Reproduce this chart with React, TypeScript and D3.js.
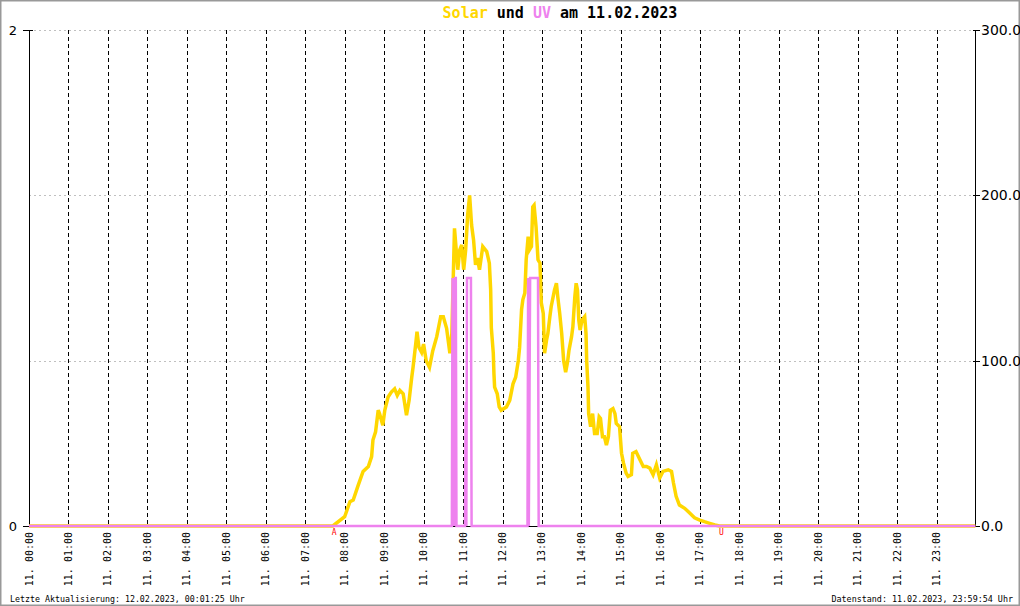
import React from "react";
import * as d3 from "d3";

const hourLabels = ["00:00","01:00","02:00","03:00","04:00","05:00","06:00","07:00","08:00","09:00","10:00","11:00","12:00","13:00","14:00","15:00","16:00","17:00","18:00","19:00","20:00","21:00","22:00","23:00"];
const leftTicks = [0, 2];
const rightTicks = [0, 100, 200, 300];
const gridValues = [100, 200, 300];

const solarTimes = ["00:00","07:42","08:00","08:08","08:13","08:20","08:28","08:36","08:41","08:43","08:47","08:51","08:53","08:58","09:01","09:06","09:11","09:16","09:20","09:24","09:29","09:34","09:38","09:42","09:44","09:48","09:50","09:53","09:57","10:00","10:04","10:09","10:14","10:20","10:26","10:30","10:35","10:40","10:43","10:47","10:50","10:52","10:55","10:58","11:01","11:04","11:07","11:10","11:13","11:16","11:19","11:22","11:25","11:30","11:36","11:40","11:42","11:43","11:46","11:47","11:48","11:52","11:55","11:58","12:06","12:11","12:16","12:20","12:24","12:26","12:29","12:31","12:34","12:36","12:39","12:41","12:44","12:46","12:48","12:51","12:54","12:57","12:59","13:02","13:04","13:07","13:09","13:12","13:14","13:19","13:22","13:24","13:27","13:30","13:33","13:36","13:39","13:41","13:45","13:47","13:50","13:52","13:54","13:56","13:58","14:01","14:05","14:07","14:08","14:10","14:11","14:14","14:17","14:20","14:24","14:27","14:29","14:32","14:35","14:38","14:41","14:44","14:48","14:51","14:53","14:58","15:01","15:04","15:08","15:11","15:16","15:18","15:23","15:29","15:34","15:39","15:44","15:49","15:54","15:59","16:04","16:12","16:17","16:20","16:24","16:29","16:37","16:45","16:52","17:00","17:07","17:15","17:23","17:30","23:59"];
const solarValues = [0,0,5.6,14.7,15.7,24,33,36,42,52,57,70,68,61,70,78,81,83,79,82,80,67,76,90,96,110,117.5,108,105,110,100,96,106,114.5,126.6,126.6,119.6,104.5,116.7,180,165,155,167,170,155,167,188,200,182,173,158,162,155,169,166,159,143,120,104.5,92,84,80,72,70,72,76,86,90,100,108,131,137,141,161,175,167,169,193,194,181,161,159,135,128.6,104.5,112.5,116.5,126.6,132.6,142.7,146.8,138.7,128.6,116.5,100,93,99.4,106,114.5,120.5,138.7,146.8,142.7,124.6,118.5,124.6,126.6,116.5,100,84,68,60,68,56,56,66,65,54,54,49,54,70,71,68,62,60,44,38,32,30,31,44,45,40,36,36,35,31,37,29,33,34,33,26,18,12.7,10.7,7.7,5,3.6,2.6,1.6,0.6,0,0];

const uvTimes = ["00:00","10:43","10:44","10:45","10:46","10:47","10:48","10:49","10:50","11:03","11:04","11:05","11:06","11:12","11:13","12:38","12:39","12:40","12:41","12:42","12:54","12:55","23:59"];
const uvValues = [0,0,1,0,1,0,1,1,0,0,0.5,0,1,1,0,0,1,0,0.5,1,1,0,0];

const sunrise = "07:44";
const sunset = "17:33";

const toMin = (t: string) => { const [h, m] = t.split(":").map(Number); return h * 60 + m; };

export default function App() {
  const W = 1020, H = 606;
  const x = d3.scaleLinear().domain([0, 1440]).range([29, 976]);
  const yL = d3.scaleLinear().domain([0, 2]).range([526, 30]);
  const yR = d3.scaleLinear().domain([0, 300]).range([526, 30]);
  const solarData = solarTimes.map((t, i) => [toMin(t), solarValues[i]] as [number, number]);
  const uvData = uvTimes.map((t, i) => [toMin(t), uvValues[i]] as [number, number]);
  const solarLine = d3.line<[number, number]>().x(d => x(d[0])).y(d => yR(d[1]));
  const uvLine = d3.line<[number, number]>().x(d => x(d[0])).y(d => yL(d[1]));
  const mono = "'DejaVu Sans Mono', monospace";
  const sans = "'DejaVu Sans', sans-serif";
  return (
    <svg width={W} height={H} style={{ position: "absolute", left: 0, top: 0, background: "#fff" }}>
      <rect x={0.5} y={0.5} width={W - 1} height={H - 1} fill="#fff" stroke="#999" strokeWidth={2} />
      {gridValues.map(v => (
        <line key={"g" + v} x1={29} x2={975} y1={Math.round(yR(v)) + 0.5} y2={Math.round(yR(v)) + 0.5} stroke="#c0c0c0" strokeDasharray="2,3" />
      ))}
      {hourLabels.slice(1).map((_, i) => {
        const xx = Math.round(x((i + 1) * 60)) + 0.5;
        return <line key={"v" + i} x1={xx} x2={xx} y1={30} y2={526} stroke="#000" strokeDasharray="4,3" />;
      })}
      <line x1={29.5} x2={29.5} y1={30} y2={526} stroke="#000" />
      <line x1={975.5} x2={975.5} y1={30} y2={526} stroke="#000" />
      <line x1={29} x2={975} y1={526.5} y2={526.5} stroke="#000" />
      {leftTicks.map(v => (
        <g key={"l" + v}>
          <line x1={23} x2={33} y1={Math.round(yL(v)) + 0.5} y2={Math.round(yL(v)) + 0.5} stroke="#000" />
          <text x={17} y={yL(v) + 5} textAnchor="end" fontFamily={sans} fontSize={13} fill="#000">{v}</text>
        </g>
      ))}
      {rightTicks.map(v => (
        <g key={"r" + v}>
          <line x1={973} x2={980} y1={Math.round(yR(v)) + 0.5} y2={Math.round(yR(v)) + 0.5} stroke="#000" />
          <text x={981} y={yR(v) + 5} fontFamily={sans} fontSize={14} fill="#000">{v.toFixed(1)}</text>
        </g>
      ))}
      {hourLabels.map((h, i) => {
        const xx = x(i * 60);
        return (
          <text key={"x" + i} transform={`translate(${xx + 3.5},${532}) rotate(-90)`} textAnchor="end" fontFamily={mono} fontSize={10} fill="#000">{"11. " + h}</text>
        );
      })}
      <path d={solarLine(solarData) || ""} fill="none" stroke="#FFD700" strokeWidth={3.5} strokeLinejoin="miter" />
      <path d={uvLine(uvData) || ""} fill="none" stroke="#EE82EE" strokeWidth={2.5} />
      <text x={x(toMin(sunrise))} y={535} textAnchor="middle" fontFamily={mono} fontSize={8} fill="#f00">A</text>
      <text x={x(toMin(sunset))} y={535} textAnchor="middle" fontFamily={mono} fontSize={8} fill="#f00">U</text>
      <text x={560} y={18} textAnchor="middle" fontFamily={mono} fontSize={15} fontWeight="bold" fill="#000">
        <tspan fill="#FFD700">Solar</tspan>
        <tspan> und </tspan>
        <tspan fill="#EE82EE">UV</tspan>
        <tspan> am 11.02.2023</tspan>
      </text>
      <text x={10} y={602} fontFamily={mono} fontSize={8.3} fill="#000">Letzte Aktualisierung: 12.02.2023, 00:01:25 Uhr</text>
      <text x={1013} y={602} textAnchor="end" fontFamily={mono} fontSize={8.4} fill="#000">Datenstand: 11.02.2023, 23:59:54 Uhr</text>
    </svg>
  );
}
